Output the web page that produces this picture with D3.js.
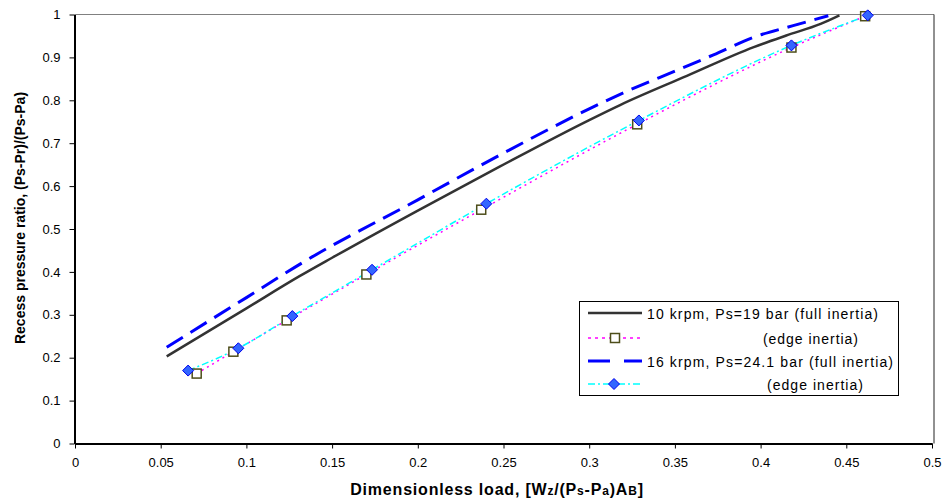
<!DOCTYPE html>
<html><head><meta charset="utf-8">
<script src="https://cdn.jsdelivr.net/npm/d3@7"></script>
<style>body{margin:0;background:#fff}svg{display:block;font-family:"Liberation Sans",Arial,sans-serif}</style>
</head><body><svg id="c" width="946" height="501"></svg>
<script>
// full-inertia curves
const full10X = [0.0535, 0.1, 0.131, 0.15, 0.2, 0.248, 0.3, 0.318, 0.357, 0.396, 0.415, 0.435, 0.446];
const full10Y = [0.203, 0.315, 0.390, 0.433, 0.543, 0.646, 0.754, 0.789, 0.857, 0.924, 0.951, 0.978, 0.998];
const full16X = [0.0535, 0.1, 0.135, 0.2, 0.25, 0.3, 0.318, 0.353, 0.3725, 0.396, 0.419, 0.4395];
const full16Y = [0.2245, 0.340, 0.427, 0.568, 0.677, 0.780, 0.814, 0.873, 0.906, 0.947, 0.974, 0.997];
// edge-inertia points
const edge10X = [0.071, 0.0924, 0.1235, 0.170, 0.237, 0.328, 0.418, 0.461];
const edge10Y = [0.163, 0.214, 0.287, 0.394, 0.545, 0.744, 0.923, 0.996];
const edge16X = [0.066, 0.0953, 0.1268, 0.1733, 0.240, 0.329, 0.418, 0.4625];
const edge16Y = [0.170, 0.222, 0.297, 0.405, 0.559, 0.753, 0.928, 0.998];
const xTicks = [0,0.05,0.1,0.15,0.2,0.25,0.3,0.35,0.4,0.45,0.5];
const yTicks = [0,0.1,0.2,0.3,0.4,0.5,0.6,0.7,0.8,0.9,1];
const legendLabels = ["10 krpm, Ps=19 bar (full inertia)","(edge inertia)","16 krpm, Ps=24.1 bar (full inertia)","(edge inertia)"];

const svg = d3.select("#c");
const L=74.5, R=933, T=14.5, B=443.5;
const x = d3.scaleLinear().domain([0,0.5]).range([L+0.5,R-1]);
const y = d3.scaleLinear().domain([0,1]).range([B,T]);

// plot border top/right
svg.append("line").attr("x1",L).attr("x2",R+1).attr("y1",T).attr("y2",T).attr("stroke","#808080").attr("stroke-width",1);
svg.append("line").attr("x1",R+1).attr("x2",R+1).attr("y1",T).attr("y2",B).attr("stroke","#222").attr("stroke-width",1);

const xa = svg.append("g").attr("transform",`translate(0,${B})`)
  .call(d3.axisBottom(x).tickValues(xTicks).tickFormat(d=>String(+d.toFixed(2))).tickSize(5).tickSizeOuter(0).tickPadding(9.5));
const ya = svg.append("g").attr("transform",`translate(${L},0)`)
  .call(d3.axisLeft(y).tickValues(yTicks).tickFormat(d=>String(+d.toFixed(1))).tickSize(5).tickSizeOuter(0).tickPadding(9));
[xa,ya].forEach(a=>{
  a.selectAll("text").attr("font-size",13).attr("fill","#000").attr("font-family","Liberation Sans, Arial, sans-serif");
  a.selectAll("line").attr("stroke","#000");
  a.select(".domain").attr("stroke","#000").attr("stroke-width",2);
});

const zip=(a,b)=>a.map((v,i)=>[v,b[i]]);
const line = d3.line().x(d=>x(d[0])).y(d=>y(d[1])).curve(d3.curveMonotoneX);

svg.append("path").attr("d",line(zip(full10X,full10Y))).attr("fill","none").attr("stroke","#333").attr("stroke-width",2.5);
svg.append("path").attr("d",line(zip(full16X,full16Y))).attr("fill","none").attr("stroke","#0000ff").attr("stroke-width",3).attr("stroke-dasharray","19,9");
svg.append("path").attr("d",line(zip(edge10X,edge10Y))).attr("fill","none").attr("stroke","#ff00ff").attr("stroke-width",1.5).attr("stroke-dasharray","2,4");
svg.append("path").attr("d",line(zip(edge16X,edge16Y))).attr("fill","none").attr("stroke","#00ffff").attr("stroke-width",1.5).attr("stroke-dasharray","7,3,2,3");

const sq = (g,cx,cy)=>g.append("rect").attr("x",cx-4.5).attr("y",cy-4.5).attr("width",9).attr("height",9).attr("fill","#fff").attr("stroke","#4d4d1a").attr("stroke-width",1.5);
const dm = (g,cx,cy)=>g.append("path").attr("d",`M${cx},${cy-5.5}L${cx+5.5},${cy}L${cx},${cy+5.5}L${cx-5.5},${cy}Z`).attr("fill","#3366ff").attr("stroke","#0000ee").attr("stroke-width",1);
const mg = svg.append("g");
zip(edge10X,edge10Y).forEach(d=>sq(mg,x(d[0]),y(d[1])));
zip(edge16X,edge16Y).forEach(d=>dm(mg,x(d[0]),y(d[1])));

// legend
const lg = svg.append("g");
lg.append("rect").attr("x",579.5).attr("y",301.5).attr("width",319).attr("height",94).attr("fill","#fff").attr("stroke","#000").attr("stroke-width",1);
const rowsY=[313,338,361,384];
const lx1=588, lx2=642;
lg.append("line").attr("x1",lx1).attr("x2",lx2).attr("y1",rowsY[0]).attr("y2",rowsY[0]).attr("stroke","#333").attr("stroke-width",2.5);
lg.append("line").attr("x1",lx1).attr("x2",lx2).attr("y1",rowsY[1]).attr("y2",rowsY[1]).attr("stroke","#ff00ff").attr("stroke-width",1.5).attr("stroke-dasharray","3,4");
sq(lg,(lx1+lx2)/2,rowsY[1]);
lg.append("line").attr("x1",lx1).attr("x2",lx2).attr("y1",rowsY[2]).attr("y2",rowsY[2]).attr("stroke","#0000ff").attr("stroke-width",3).attr("stroke-dasharray","22,14");
lg.append("line").attr("x1",lx1).attr("x2",lx2).attr("y1",rowsY[3]).attr("y2",rowsY[3]).attr("stroke","#00ffff").attr("stroke-width",1.5).attr("stroke-dasharray","7,3,2,3");
dm(lg,(lx1+lx2)/2-1,rowsY[3]);
const txX=[647,763,647,767];
const txW=[231,95,246,96];
legendLabels.forEach((t,i)=>lg.append("text").attr("x",txX[i]).attr("y",rowsY[i]+5.5).attr("font-size",14)
  .attr("textLength",txW[i]).attr("lengthAdjust","spacing").attr("fill","#000").text(t));

// axis titles
const xt = svg.append("text").attr("x",497).attr("y",495).attr("text-anchor","middle").attr("font-size",16).attr("font-weight","bold").attr("letter-spacing",0.8).attr("fill","#000");
[["Dimensionless load, [W",16],["z",12],["/(P",16],["s",12],["-P",16],["a",12],[")A",16],["B",12],["]",16]]
  .forEach(([t,s])=>xt.append("tspan").attr("font-size",s).text(t));
svg.append("text").attr("transform","translate(25,218) rotate(-90)").attr("text-anchor","middle").attr("font-size",14).attr("font-weight","bold").attr("fill","#000").text("Recess pressure ratio, (Ps-Pr)/(Ps-Pa)");
</script></body></html>
